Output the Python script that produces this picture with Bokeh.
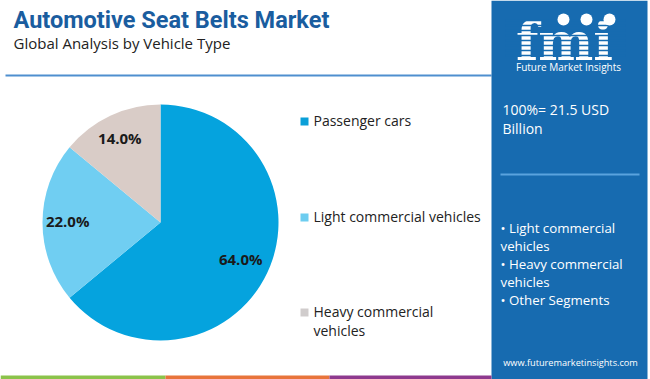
import numpy as np
from bokeh.plotting import figure
from bokeh.models import Range1d, ColumnDataSource
from bokeh.core.properties import value
from bokeh.embed import file_html
from bokeh.resources import INLINE

# ---- data ----
categories = ["Passenger cars", "Light commercial vehicles", "Heavy commercial vehicles"]
legend_labels = ["Passenger cars", "Light commercial vehicles", "Heavy commercial\nvehicles"]
shares = [64.0, 22.0, 14.0]
slice_colors = ["#05a3de", "#70cef2", "#d9ccc7"]
legend_colors = ["#0a9fd8", "#6dcdf0", "#d0cccc"]
title = "Automotive Seat Belts Market"
subtitle = "Global Analysis by Vehicle Type"
total_text = "100%= 21.5 USD\nBillion"
segments_text = "\u2022 Light commercial\nvehicles\n\u2022 Heavy commercial\nvehicles\n\u2022 Other Segments"
website = "www.futuremarketinsights.com"
strip_colors = ["#8bc34a", "#e8743b", "#8e3a8e"]

W, H = 650, 379
def Y(y):
    return H - y

FONT = value("Open Sans")

p = figure(width=W, height=H, x_range=Range1d(0, W), y_range=Range1d(0, H),
           output_backend="svg", toolbar_location=None, min_border=0)
p.axis.visible = False
p.grid.visible = False
p.outline_line_color = None
p.background_fill_color = "white"
p.border_fill_color = "white"

# ---- title ----
p.text(x=[13], y=[Y(19)], text=[title], text_font=value("Roboto"), text_font_style="bold",
       text_font_size="23.5px", text_color="#1a5d9f", text_baseline="middle", text_align="left")
p.text(x=[13], y=[Y(42)], text=[subtitle], text_font=FONT,
       text_font_size="15px", text_color="#222222", text_baseline="middle", text_align="left")
# divider line
p.segment(x0=[5], y0=[Y(75)], x1=[491], y1=[Y(75)], line_color="#4f8fcf", line_width=2)

# ---- pie ----
cx, cy, r = 160, Y(222), 118
frac = np.array(shares) / sum(shares)
cum = np.concatenate([[0], np.cumsum(frac)])
start = np.pi / 2 - cum[1:] * 2 * np.pi
end = np.pi / 2 - cum[:-1] * 2 * np.pi
src = ColumnDataSource(dict(start=start, end=end, color=slice_colors, cat=categories))
p.wedge(x=cx, y=cy, radius=r, start_angle="start", end_angle="end", fill_color="color",
        line_color=None, source=src)
mid = (start + end) / 2
lr = 0.77 * r
lx = cx + lr * np.cos(mid) - 2
ly = cy + lr * np.sin(mid) + 2
p.text(x=lx, y=ly, text=[f"{s:.1f}%" for s in shares], text_font=FONT, text_font_style="bold",
       text_font_size="15px", text_color="#1a1a1a", text_align="center", text_baseline="middle")

# ---- legend ----
leg_y = [Y(121), Y(217), Y(312)]
p.rect(x=[304] * 3, y=leg_y, width=8, height=8, fill_color=legend_colors, line_color=None)
p.text(x=[313] * 3, y=[v + 11 for v in leg_y], text=legend_labels, text_font=FONT,
       text_font_size="14px", text_color="#222222", text_align="left", text_baseline="top",
       text_line_height=1.0)

# ---- right panel ----
p.quad(left=[491], right=[647], top=[Y(0)], bottom=[Y(379)], fill_color="#176bb0", line_color=None)
# logo
p.text(x=[564], y=[Y(41)], text=["fmi"], text_font=value("DejaVu Serif"), text_font_style="bold",
       text_font_size="52px", text_color="white", text_align="center", text_baseline="middle")
for yy in range(20, 58, 5):
    p.segment(x0=[505], y0=[Y(yy)], x1=[625], y1=[Y(yy)], line_color="#176bb0", line_width=1.5)
p.circle(x=[563, 586, 609], y=[Y(19)] * 3, radius=6, fill_color="white", line_color=None)
p.text(x=[568], y=[Y(66)], text=["Future Market Insights"], text_font=FONT,
       text_font_size="10px", text_color="white", text_align="center", text_baseline="middle")

p.text(x=[502], y=[Y(99)], text=[total_text], text_font=FONT, text_font_size="14px",
       text_color="white", text_align="left", text_baseline="top", text_line_height=1.05)
p.segment(x0=[500], y0=[Y(174)], x1=[639], y1=[Y(174)], line_color="#5aa3de", line_width=2)
p.text(x=[500], y=[Y(218)], text=[segments_text], text_font=FONT, text_font_size="13.3px",
       text_color="white", text_align="left", text_baseline="top", text_line_height=1.0)
p.text(x=[570], y=[Y(362)], text=[website], text_font=FONT, text_font_size="9.2px",
       text_color="white", text_align="center", text_baseline="middle")

# ---- bottom colour strip ----
p.quad(left=[0, 165, 329], right=[165, 329, 491], top=[Y(375)] * 3, bottom=[Y(379)] * 3,
       fill_color=strip_colors, line_color=None)

open("out.html", "w").write(file_html(p, INLINE))
